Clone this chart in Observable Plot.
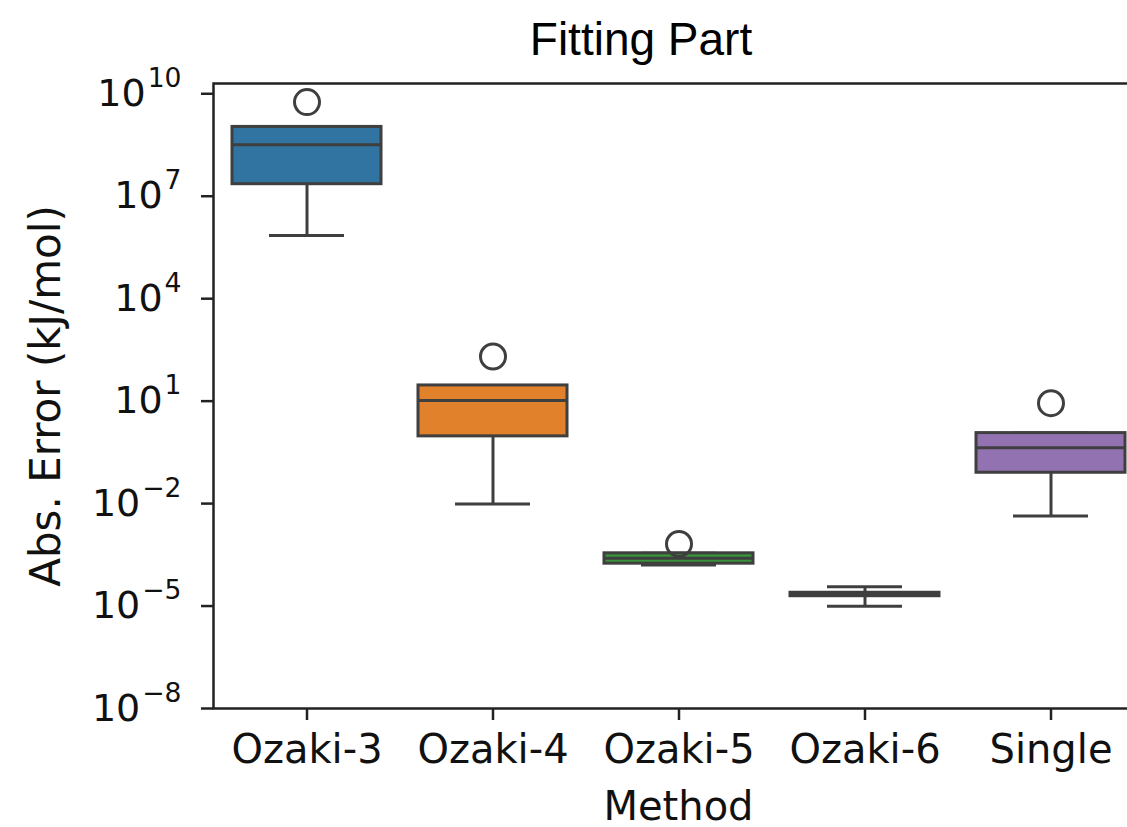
<!DOCTYPE html>
<html>
<head>
<meta charset="utf-8">
<script src="https://cdn.jsdelivr.net/npm/d3@7"></script>
<script src="https://cdn.jsdelivr.net/npm/@observablehq/plot@0.6"></script>
<style>
  html, body { margin: 0; padding: 0; background: #fff; overflow: hidden; width: 1127px; height: 827px; }
  #wrap { position: relative; width: 1127px; height: 827px; }
  #title { position: absolute; left: 0; width: 1282px; top: 16px; text-align: center;
           font-family: "Liberation Sans", Arial, sans-serif; font-size: 46px; line-height: 1; color: #000; }
  #chart { position: absolute; left: 0; top: 0; }
</style>
</head>
<body>
<div id="wrap">
  <div id="chart"></div>
  <div id="title">Fitting Part</div>
</div>
<script>
// ---- data ----
const methods     = ["Ozaki-3", "Ozaki-4", "Ozaki-5", "Ozaki-6", "Single"];
const whiskerLow  = [7.1e5, 0.0098, 1.6e-4, 9.8e-6, 0.0043];
const q1          = [2.25e7, 0.93, 1.74e-4, 1.94e-5, 0.08];
const median      = [3.2e8, 10.5, 2.5e-4, 2.2e-5, 0.43];
const q3          = [1.07e9, 28.8, 3.5e-4, 2.45e-5, 1.16];
const whiskerHigh = [1.07e9, 28.8, 3.5e-4, 3.7e-5, 1.16];
const outliers    = [5.7e9, 203, 6.6e-4, null, 8.7];
const colors      = ["#3274a1", "#e1812c", "#3a923a", "#c03d3e", "#9372b2"];
const yTicks      = [1e-8, 1e-5, 1e-2, 1e1, 1e4, 1e7, 1e10];

const rows = methods.map((m, i) => ({
  method: m, lo: whiskerLow[i], q1: q1[i], med: median[i], q3: q3[i], hi: whiskerHigh[i], color: colors[i]
}));
const outRows = methods.map((m, i) => ({method: m, value: outliers[i]})).filter(d => d.value != null);

const line = "#3f3f3f";
const lw = 3;
const font = "DejaVu Sans";

const plot = Plot.plot({
  width: 1160,
  height: 827,
  marginLeft: 213,
  marginRight: 17,
  marginTop: 83,
  marginBottom: 119,
  style: {fontFamily: font, background: "white", maxWidth: "none", overflow: "visible", color: "#000"},
  x: {type: "band", domain: methods, paddingInner: 0.2, paddingOuter: 0.1, align: 0.5},
  y: {type: "log", domain: [1e-8, 2e10]},
  color: {type: "identity"},
  marks: [
    Plot.ruleX(rows, {x: "method", y1: "lo", y2: "q1", stroke: line, strokeWidth: lw}),
    Plot.ruleX(rows, {x: "method", y1: "q3", y2: "hi", stroke: line, strokeWidth: lw}),
    Plot.tickY(rows, {x: "method", y: "lo", stroke: line, strokeWidth: lw, insetLeft: 37, insetRight: 37}),
    Plot.tickY(rows, {x: "method", y: "hi", stroke: line, strokeWidth: lw, insetLeft: 37, insetRight: 37}),
    Plot.barY(rows, {x: "method", y1: "q1", y2: "q3", fill: "color", stroke: line, strokeWidth: lw}),
    Plot.tickY(rows, {x: "method", y: "med", stroke: line, strokeWidth: lw}),
    Plot.dot(outRows, {x: "method", y: "value", r: 12.5, stroke: line, strokeWidth: lw, fill: "none"}),
    Plot.axisX({tickSize: 12, tickPadding: 14, fontSize: 40, strokeWidth: 2.5, stroke: "#222", label: null, fill: "#111"}),
    Plot.axisY({ticks: yTicks, tickSize: 12, tickPadding: 20, fontSize: 38, strokeWidth: 2.5, stroke: "#222",
                tickFormat: d => "10^" + Math.round(Math.log10(d)), label: null, fill: "#111"}),
    Plot.frame({stroke: "#222", strokeWidth: 2.5}),
    Plot.text(["Method"], {frameAnchor: "bottom", dy: 111, fontSize: 40, fill: "#111"}),
    Plot.text(["Abs. Error (kJ/mol)"], {frameAnchor: "left", textAnchor: "middle", rotate: -90, dx: -167, fontSize: 42, fill: "#111"})
  ]
});

// typeset y tick labels as 10 with a superscript exponent
d3.select(plot).selectAll("g[aria-label='y-axis tick label'] text").each(function() {
  const t = this.textContent;
  if (!t.startsWith("10^")) return;
  const e = t.slice(3).replace("-", "\u2212");
  const sel = d3.select(this);
  sel.text("");
  sel.append("tspan").text("10");
  sel.append("tspan").attr("font-size", "70%").attr("dy", "-19").attr("dx", "2").text(e);
});

document.getElementById("chart").appendChild(plot);
</script>
</body>
</html>
